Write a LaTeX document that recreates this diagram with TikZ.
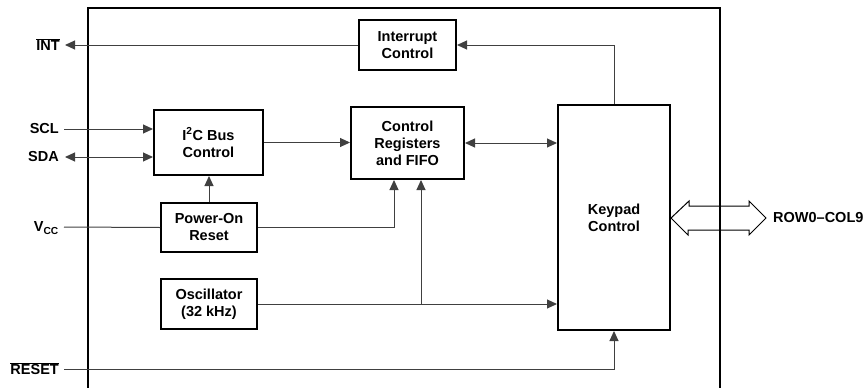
\documentclass[tikz,border=0pt]{standalone}
\usepackage{fontspec}
\setmainfont{Liberation Sans}
\usetikzlibrary{arrows.meta,calc}
\newcommand{\ovl}[1]{$\overline{\hbox{#1}}$}
\begin{document}
\begin{tikzpicture}[x=1pt,y=-1pt,
  font=\fontsize{14.5}{17}\selectfont\bfseries,
  blk/.style={draw=black,line width=2pt,align=center,inner sep=0pt},
  wire/.style={draw=black!75,line width=1pt},
  tip/.style={-{Triangle[length=10pt,width=9pt]}},
  dtip/.style={{Triangle[length=10pt,width=9pt]}-{Triangle[length=10pt,width=9pt]}},
  lbl/.style={anchor=east,inner sep=0pt},
]
\useasboundingbox (0,0) rectangle (867,388);
% chip outline
\draw[line width=2pt] (88,395) -- (88,8) -- (720,8) -- (720,395);

% blocks
\node[blk,minimum width=97pt,minimum height=50pt] (intc) at (407.5,45) {Interrupt\\Control};
\node[blk,minimum width=109pt,minimum height=65pt] (i2c) at (208.5,142.5) {I\textsuperscript{2}C Bus\\Control};
\node[blk,minimum width=113pt,minimum height=72pt] (creg) at (407.5,143) {Control\\Registers\\and FIFO};
\node[blk,minimum width=96pt,minimum height=49pt] (por) at (209,227.5) {Power-On\\Reset};
\node[blk,minimum width=96pt,minimum height=50pt] (osc) at (209,304) {Oscillator\\(32 kHz)};
\node[blk,minimum width=112pt,minimum height=225pt] (kpd) at (614,217.5) {Keypad\\Control};

% external pins
\coordinate (pint) at (65,45);
\coordinate (pscl) at (64,129);
\coordinate (psda) at (65,157);
\coordinate (pvcc) at (64,227);
\coordinate (prst) at (64,369);
\node[lbl] (tint) at (60,45) {\ovl{INT}};
\node[lbl] (tscl) at (59,129) {SCL};
\node[lbl] (tsda) at (59,157) {SDA};
\node[lbl] (tvcc) at (59,228) {V\textsubscript{CC}};
\node[lbl] (trst) at (59,369) {\ovl{RESET}};
\node[anchor=west,inner sep=0pt] (trow) at (773,218) {ROW0–COL9};

% connectors
\draw[wire,tip] (intc.west) -- (pint);
\draw[wire,tip] (kpd.north) |- (intc.east);
\draw[wire,tip] (pscl) -- (pscl -| i2c.west);
\draw[wire,dtip] (psda) -- (psda -| i2c.west);
\draw[wire,tip] (i2c.east) -- (i2c.east -| creg.west);
\draw[wire,dtip] (creg.east) -- (creg.east -| kpd.west);
\draw[wire,tip] (por.north) -- (por.north |- i2c.south);
\draw[wire] (pvcc) -- (por.west);
\draw[wire,tip] (por.east) -| ($(creg.south)+(-13.5,0)$);
\draw[wire,tip] (osc.east) -- (osc.east -| kpd.west);
\coordinate (br) at ($(osc.east -| creg.south)+(13.5,0)$);
\draw[wire,tip] (br) -- ($(creg.south)+(13.5,0)$);
\draw[wire,tip] (prst) -| (kpd.south);

% hollow bus arrow
\draw[line width=1pt] (kpd.east |- 0,218) -- ++(18,-17) -- ++(0,5) -- (749,206) -- (749,201) -- (766,218) -- (749,235) -- (749,230) -- (688,230) -- (688,235) -- cycle;
\end{tikzpicture}
\end{document}
